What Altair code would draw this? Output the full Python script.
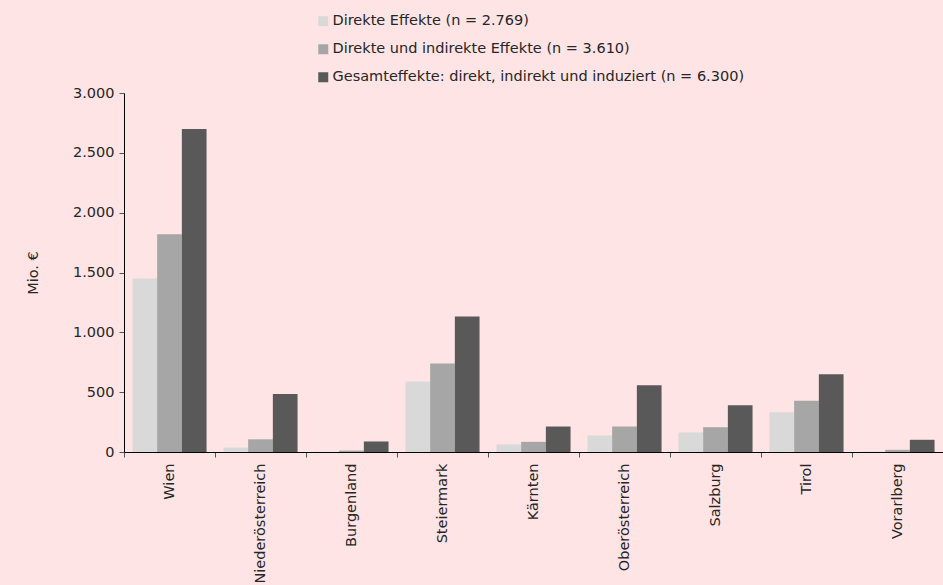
import altair as alt
import pandas as pd

regions = ["Wien", "Niederösterreich", "Burgenland", "Steiermark", "Kärnten",
           "Oberösterreich", "Salzburg", "Tirol", "Vorarlberg"]
series = ["Direkte Effekte (n = 2.769)",
          "Direkte und indirekte Effekte (n = 3.610)",
          "Gesamteffekte: direkt, indirekt und induziert (n = 6.300)"]
direkt = [1450, 38, 3, 589, 63, 138, 163, 333, 4]
direkt_indirekt = [1820, 106, 12, 740, 85, 213, 207, 428, 18]
gesamt = [2700, 485, 88, 1132, 213, 558, 391, 650, 102]
colors = ["#d9d9d9", "#a6a6a6", "#595959"]

rows = []
for s, vals in zip(series, [direkt, direkt_indirekt, gesamt]):
    for r, v in zip(regions, vals):
        rows.append({"Region": r, "Serie": s, "Wert": v})
df = pd.DataFrame(rows)

FONT = "DejaVu Sans"
FS = 14.5
TXT = "#262626"

chart = alt.Chart(df).mark_bar().encode(
    x=alt.X("Region:N", sort=regions,
            scale=alt.Scale(paddingInner=0, paddingOuter=0),
            axis=alt.Axis(title=None, labelAngle=-90, tickBand="extent",
                          domainColor="black", tickColor="#555", tickSize=5,
                          labelPadding=6, labelFontSize=FS, labelColor=TXT,
                          labelFont=FONT)),
    xOffset=alt.XOffset("Serie:N", sort=series,
                        scale=alt.Scale(paddingInner=0, paddingOuter=0.342)),
    y=alt.Y("Wert:Q",
            scale=alt.Scale(domain=[0, 3000], nice=False),
            axis=alt.Axis(title="Mio. €", values=[0, 500, 1000, 1500, 2000, 2500, 3000],
                          labelExpr="replace(format(datum.value, ','), ',', '.')",
                          grid=False, domainColor="black", tickColor="#555", tickSize=5,
                          labelPadding=5, labelFontSize=FS, labelColor=TXT, labelFont=FONT,
                          titleFontSize=FS, titleFontWeight="normal", titleColor=TXT,
                          titleFont=FONT, titlePadding=32)),
    color=alt.Color("Serie:N", sort=series,
                    scale=alt.Scale(domain=series, range=colors),
                    legend=alt.Legend(title=None, orient="none", legendX=192, legendY=-79,
                                      symbolType="square", symbolSize=100,
                                      symbolStrokeWidth=0, rowPadding=13,
                                      labelFontSize=FS, labelColor=TXT, labelFont=FONT,
                                      labelOffset=2, labelLimit=600)),
).properties(
    width=819, height=359,
    background="#fee4e5",
    padding={"left": 124, "top": 93, "right": 0, "bottom": 133},
    autosize=alt.AutoSizeParams(type="none"),
).configure_view(stroke=None)

chart.save("out.html", embed_options={"renderer": "svg", "actions": False})
